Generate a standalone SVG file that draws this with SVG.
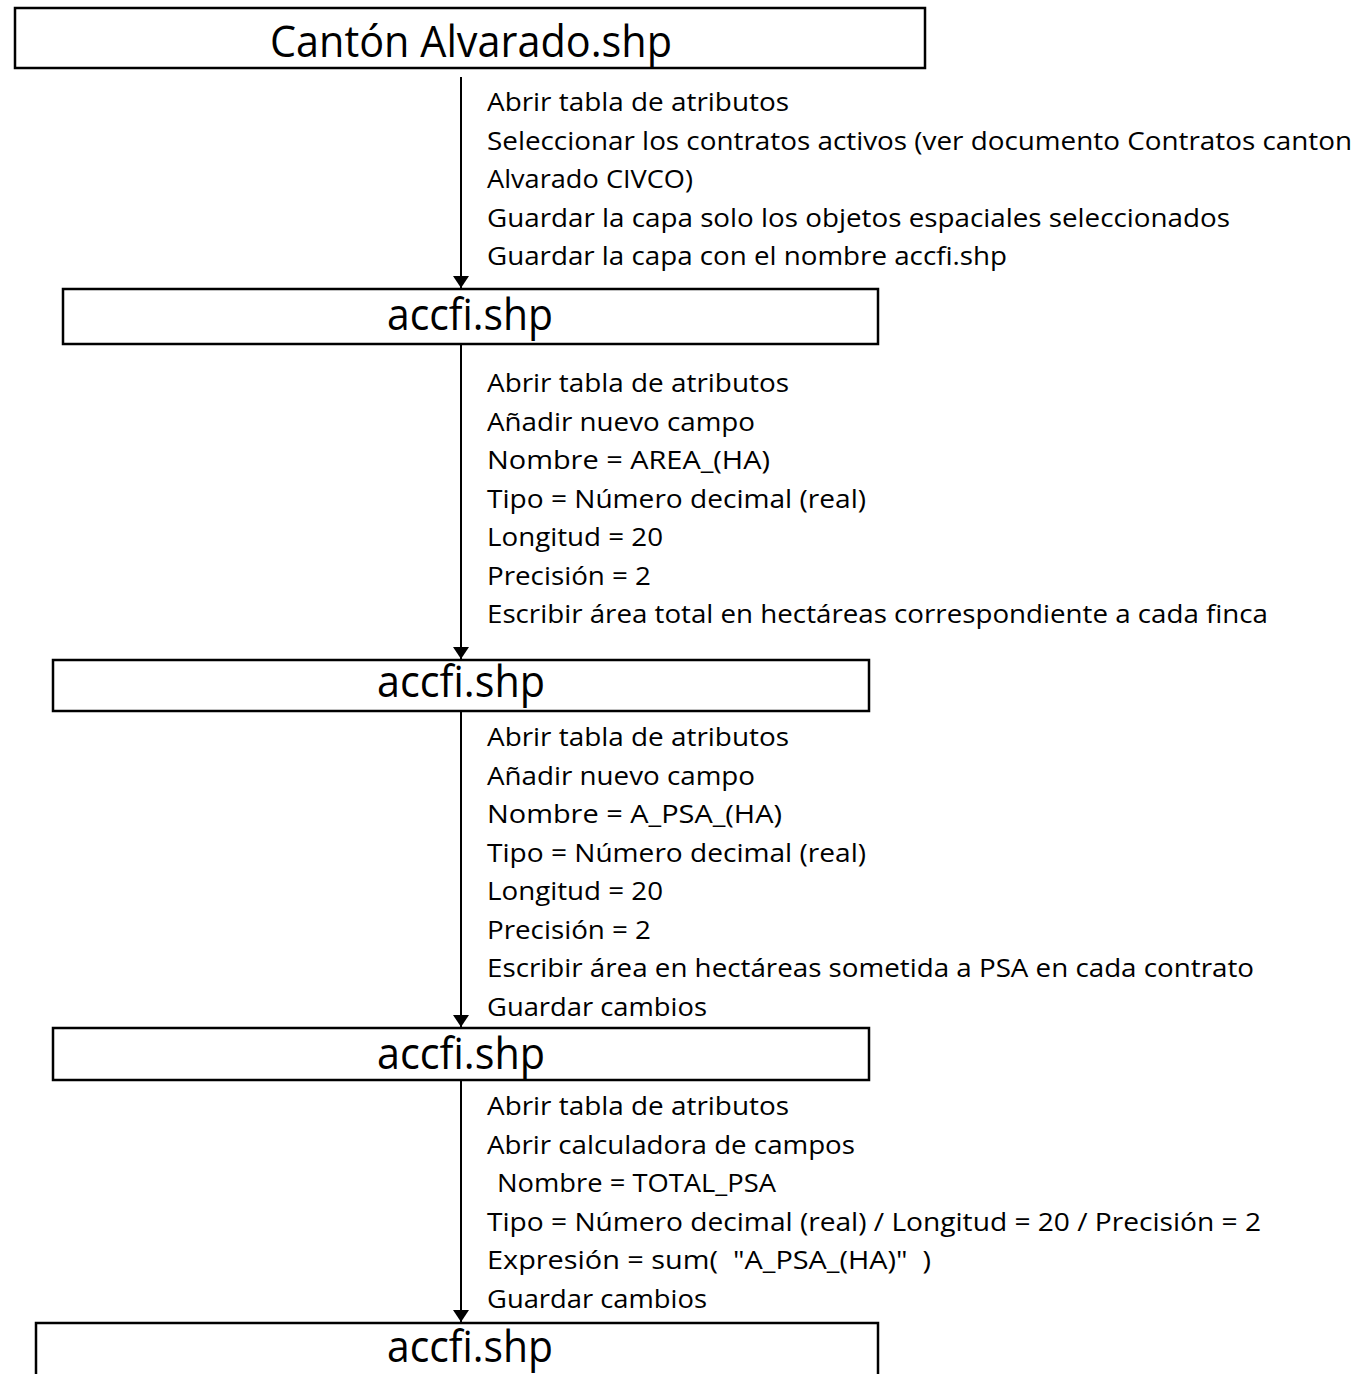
<svg xmlns="http://www.w3.org/2000/svg" width="1360" height="1374" viewBox="0 0 1360 1374">
<style>
.box{fill:#fff;stroke:#000;stroke-width:2.5}
.title{font-family:"Open Sans","Liberation Sans",sans-serif;font-size:44px;fill:#000}
.t{font-family:"Open Sans","Liberation Sans",sans-serif;font-size:25px;fill:#000}
.conn{stroke:#000;stroke-width:2;fill:none}
</style>
<defs>
<marker id="ah" viewBox="0 0 12 16" refX="12" refY="8" markerWidth="12" markerHeight="16" markerUnits="userSpaceOnUse" orient="auto">
<path d="M0,0 L12,8 L0,16 Z" fill="#000"/>
</marker>
</defs>
<rect width="1360" height="1374" fill="#fff"/>
<g id="connectors">
<line class="conn" x1="461" y1="77" x2="461" y2="288" marker-end="url(#ah)"/>
<line class="conn" x1="461" y1="345" x2="461" y2="659" marker-end="url(#ah)"/>
<line class="conn" x1="461" y1="712" x2="461" y2="1027" marker-end="url(#ah)"/>
<line class="conn" x1="461" y1="1081" x2="461" y2="1322" marker-end="url(#ah)"/>
</g>
<g id="node1">
<rect class="box" x="15" y="8" width="910" height="60"/>
<text class="title" x="270" y="57" textLength="402" lengthAdjust="spacingAndGlyphs">Cantón Alvarado.shp</text>
</g>
<g id="label1">
<text class="t" x="487" y="111" textLength="302" lengthAdjust="spacingAndGlyphs">Abrir tabla de atributos</text>
<text class="t" x="487" y="149.5" textLength="865" lengthAdjust="spacingAndGlyphs">Seleccionar los contratos activos (ver documento Contratos canton</text>
<text class="t" x="487" y="188" textLength="206" lengthAdjust="spacingAndGlyphs">Alvarado CIVCO)</text>
<text class="t" x="487" y="226.5" textLength="743" lengthAdjust="spacingAndGlyphs">Guardar la capa solo los objetos espaciales seleccionados</text>
<text class="t" x="487" y="265" textLength="520" lengthAdjust="spacingAndGlyphs">Guardar la capa con el nombre accfi.shp</text>
</g>
<g id="node2">
<rect class="box" x="63" y="289" width="815" height="55"/>
<text class="title" x="387" y="330" textLength="166" lengthAdjust="spacingAndGlyphs">accfi.shp</text>
</g>
<g id="label2">
<text class="t" x="487" y="392" textLength="302" lengthAdjust="spacingAndGlyphs">Abrir tabla de atributos</text>
<text class="t" x="487" y="430.5" textLength="268" lengthAdjust="spacingAndGlyphs">Añadir nuevo campo</text>
<text class="t" x="487" y="469" textLength="283" lengthAdjust="spacingAndGlyphs">Nombre = AREA_(HA)</text>
<text class="t" x="487" y="507.5" textLength="379" lengthAdjust="spacingAndGlyphs">Tipo = Número decimal (real)</text>
<text class="t" x="487" y="546" textLength="176" lengthAdjust="spacingAndGlyphs">Longitud = 20</text>
<text class="t" x="487" y="584.5" textLength="164" lengthAdjust="spacingAndGlyphs">Precisión = 2</text>
<text class="t" x="487" y="623" textLength="781" lengthAdjust="spacingAndGlyphs">Escribir área total en hectáreas correspondiente a cada finca</text>
</g>
<g id="node3">
<rect class="box" x="53" y="660" width="816" height="51"/>
<text class="title" x="377" y="697" textLength="168" lengthAdjust="spacingAndGlyphs">accfi.shp</text>
</g>
<g id="label3">
<text class="t" x="487" y="746" textLength="302" lengthAdjust="spacingAndGlyphs">Abrir tabla de atributos</text>
<text class="t" x="487" y="784.5" textLength="268" lengthAdjust="spacingAndGlyphs">Añadir nuevo campo</text>
<text class="t" x="487" y="823" textLength="295" lengthAdjust="spacingAndGlyphs">Nombre = A_PSA_(HA)</text>
<text class="t" x="487" y="861.5" textLength="379" lengthAdjust="spacingAndGlyphs">Tipo = Número decimal (real)</text>
<text class="t" x="487" y="900" textLength="176" lengthAdjust="spacingAndGlyphs">Longitud = 20</text>
<text class="t" x="487" y="938.5" textLength="164" lengthAdjust="spacingAndGlyphs">Precisión = 2</text>
<text class="t" x="487" y="977" textLength="767" lengthAdjust="spacingAndGlyphs">Escribir área en hectáreas sometida a PSA en cada contrato</text>
<text class="t" x="487" y="1015.5" textLength="220" lengthAdjust="spacingAndGlyphs">Guardar cambios</text>
</g>
<g id="node4">
<rect class="box" x="53" y="1028" width="816" height="52"/>
<text class="title" x="377" y="1069" textLength="168" lengthAdjust="spacingAndGlyphs">accfi.shp</text>
</g>
<g id="label4">
<text class="t" x="487" y="1115" textLength="302" lengthAdjust="spacingAndGlyphs">Abrir tabla de atributos</text>
<text class="t" x="487" y="1153.5" textLength="368" lengthAdjust="spacingAndGlyphs">Abrir calculadora de campos</text>
<text class="t" x="497" y="1192" textLength="279" lengthAdjust="spacingAndGlyphs">Nombre = TOTAL_PSA</text>
<text class="t" x="487" y="1230.5" textLength="774" lengthAdjust="spacingAndGlyphs">Tipo = Número decimal (real) / Longitud = 20 / Precisión = 2</text>
<text class="t" x="487" y="1269" textLength="444" lengthAdjust="spacingAndGlyphs" xml:space="preserve">Expresión = sum(  "A_PSA_(HA)"  )</text>
<text class="t" x="487" y="1307.5" textLength="220" lengthAdjust="spacingAndGlyphs">Guardar cambios</text>
</g>
<g id="node5">
<rect class="box" x="36" y="1323" width="842" height="70"/>
<text class="title" x="387" y="1362" textLength="166" lengthAdjust="spacingAndGlyphs">accfi.shp</text>
</g>
</svg>
